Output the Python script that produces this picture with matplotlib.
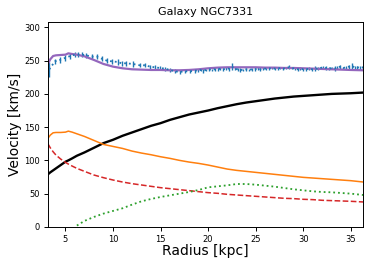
import numpy as np
import matplotlib
matplotlib.use('Agg')
from matplotlib import pyplot as plt

# --- observed rotation curve ---
r_obs = [3.3, 3.9, 4.4, 4.95, 5.5, 6.0, 6.35, 6.7, 7.2, 7.75, 8.3, 8.8, 9.35, 9.85,
         10.5, 10.9, 11.4, 12.1, 12.8, 13.35, 13.9, 14.4, 14.9, 15.45, 16.0, 16.5,
         17.0, 17.55, 18.1, 18.6,
         18.9, 19.2, 19.5, 19.8, 20.1, 20.4, 20.7, 21.0, 21.3, 21.6, 21.9, 22.2,
         22.5, 22.8, 23.1, 23.4, 23.7, 24.0, 24.3, 24.6, 24.9, 25.2, 25.5, 25.8,
         26.1, 26.4, 26.7, 27.0, 27.3, 27.6, 27.9, 28.2, 28.5, 28.8, 29.1, 29.4,
         29.7, 30.0, 30.3, 30.6, 30.9, 31.2, 31.5, 31.8, 32.1, 32.4, 32.7, 33.0,
         33.3, 33.6, 33.9, 34.2, 34.5, 34.8, 35.1, 35.4, 35.7, 36.0, 36.3]
v_obs = [237, 249, 251, 254, 257, 259, 259, 259, 258, 256, 256, 253, 250, 249,
         248, 246, 246, 245, 243, 243, 241, 240, 239, 238, 236, 234,
         233, 234, 234, 235,
         235, 236, 235, 236, 237, 236, 237, 237, 238, 237, 238, 238,
         241, 238, 237, 236, 236, 237, 236, 237, 237, 238, 237, 238,
         238, 238, 239, 238, 238, 239, 238, 239, 240, 239, 238, 237,
         238, 237, 237, 238, 237, 238, 238, 239, 240, 239, 238, 239,
         238, 240, 241, 239, 240, 241, 242, 240, 240, 239, 240]
e_obs = [11, 4, 4, 4, 4, 4, 4, 4, 4, 4, 4, 4, 4, 4,
         4, 4, 4, 4, 3, 3, 3, 3, 3, 3, 3, 3,
         3, 3, 3, 3,
         2, 2, 3, 2, 2, 2, 2, 2, 2, 2, 2, 3,
         5, 2, 2, 3, 2, 2, 2, 2, 2, 2, 2, 2,
         2, 2, 2, 2, 2, 2, 2, 2, 3, 2, 2, 2,
         2, 2, 2, 2, 2, 4, 2, 2, 2, 3, 2, 2,
         4, 2, 3, 2, 2, 3, 5, 2, 2, 3, 2]

# --- model components ---
r_mod = [3.15, 3.4, 3.7, 4.0, 4.5, 5.0, 5.3, 5.7, 6.2, 7.0, 8.0, 9.0, 10.0, 11.0,
         12.0, 13.0, 14.0, 15.0, 16.0, 17.0, 18.0, 19.0, 20.0, 21.0, 22.0, 23.0,
         24.0, 25.0, 26.0, 27.0, 28.0, 29.0, 30.0, 31.0, 32.0, 33.0, 34.0, 35.0, 36.3]
v_total = [245, 252, 257, 258, 258.5, 259, 261, 260, 259, 256.5, 251, 245, 241, 238.5,
           237, 236.5, 236, 236, 235.5, 235.5, 236, 237, 238.5, 239.5, 240, 240,
           240, 240, 239.5, 239.5, 239, 239, 238.5, 238, 237.5, 237, 236.5, 236, 235.5]
v_halo = [79, 82, 85, 88, 93, 98, 100, 103, 107, 112, 119, 126, 131, 137,
          142, 147, 152, 156, 161, 165, 169, 172, 175, 178.5, 181.5, 184.5,
          187, 189, 191, 193, 194.5, 196, 197, 198, 199, 200, 200.5, 201, 202]
v_disk = [133, 138, 141.5, 142, 142, 142.5, 144, 142.5, 140, 136, 130, 124, 121, 118,
          114, 111, 108.5, 105.5, 103, 100, 97.5, 95.5, 93, 90, 87, 85,
          83.5, 82, 80.5, 79, 77.5, 76, 74.5, 73.5, 72.5, 71.5, 70.5, 69.5, 67.5]
v_bulge = [125, 119, 113, 108, 102, 97, 94.5, 91.5, 88, 83.5, 78, 74, 70.5, 67.5,
           65, 63, 61, 59, 57.5, 56, 54.5, 53, 51.5, 50.5, 49, 48,
           47, 46, 45, 44, 43, 42.5, 41.5, 41, 40, 39.5, 39, 38.5, 37.5]
v_gas = [np.nan, np.nan, np.nan, np.nan, np.nan, np.nan, np.nan, np.nan, 2, 9, 15, 20, 24, 28,
         33.5, 38.5, 42, 45, 47.5, 50, 52.5, 55.5, 59.5, 61, 62.5, 64.5,
         64.5, 63.5, 62, 60.5, 58.5, 56.5, 55, 53.5, 52.5, 52, 51, 50, 48]

fig = plt.figure(figsize=(3.74, 2.66), dpi=100)
ax = fig.add_axes([0.128, 0.147, 0.843, 0.770])

ax.errorbar(r_obs, v_obs, yerr=e_obs, fmt=':', color='tab:blue', lw=1.3, elinewidth=1.0)
ax.plot(r_mod, v_total, color='tab:purple', lw=1.6)
ax.plot(r_mod, v_halo, color='black', lw=1.7)
ax.plot(r_mod, v_disk, color='tab:orange', lw=1.1)
ax.plot(r_mod, v_bulge, color='tab:red', lw=1.1, ls='--')
ax.plot(r_mod, v_gas, color='tab:green', lw=1.3, ls=':')

ax.set_xlim(3.15, 36.3)
ax.set_ylim(0, 308)
ax.set_xticks(np.arange(5, 36, 5))
ax.set_yticks(np.arange(0, 301, 50))
ax.tick_params(labelsize=6, length=3, width=0.7, pad=2.5)
for spine in ax.spines.values():
    spine.set_linewidth(0.7)

ax.set_xlabel('Radius [kpc]', fontsize=10, labelpad=0)
ax.set_ylabel('Velocity [km/s]', fontsize=10, labelpad=2)
ax.set_title('Galaxy NGC7331', fontsize=8, pad=5)

plt.savefig('out.png', dpi=100)
